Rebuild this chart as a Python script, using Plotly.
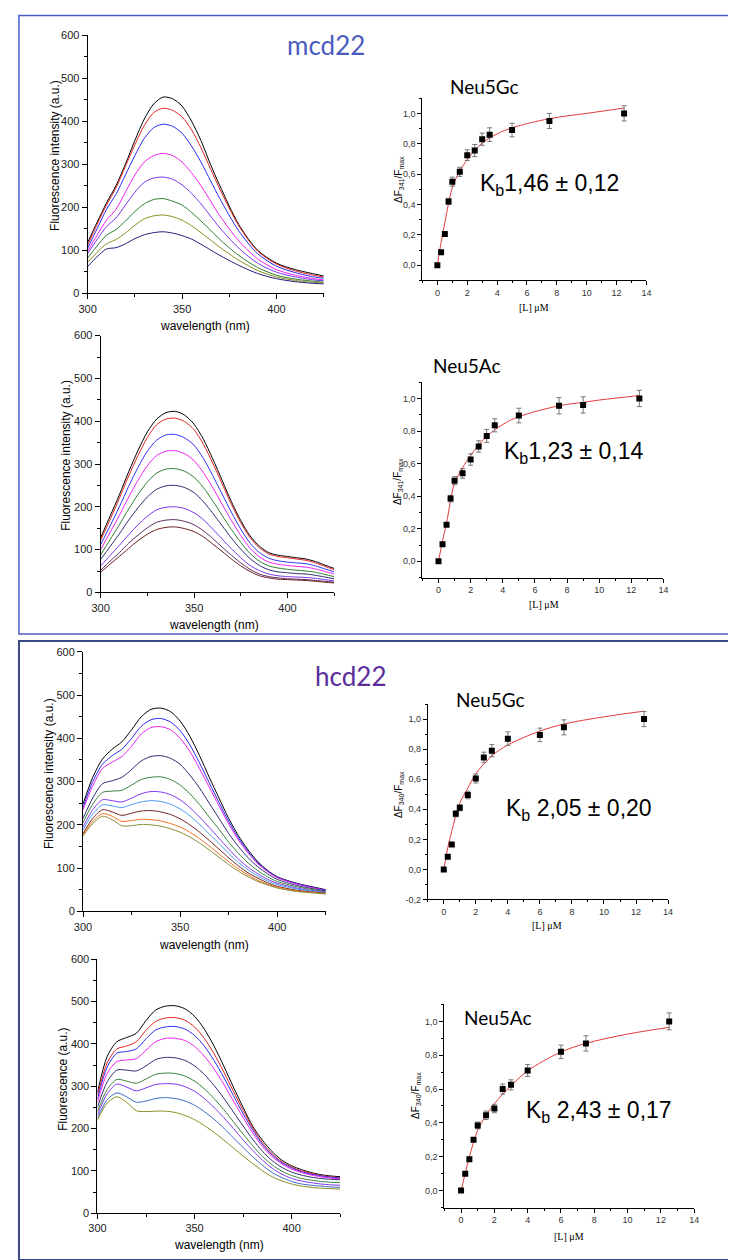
import plotly.graph_objects as go

W, H = 736, 1260

# ---------------- DATA ----------------
# mcd22 / Neu5Gc spectra
wl_mgc = [300, 305, 310, 315, 320, 325, 330, 335, 340, 345, 350, 355, 360, 365, 370, 380, 390, 400, 410, 420, 425]
mgc_1 = [118, 165, 210, 250, 300, 355, 405, 440, 456, 452, 435, 400, 355, 300, 250, 160, 100, 70, 55, 45, 40]
mgc_2 = [112, 160, 205, 245, 295, 345, 390, 420, 430, 425, 410, 380, 338, 290, 242, 157, 98, 68, 52, 42, 38]
mgc_3 = [105, 150, 195, 230, 275, 320, 360, 385, 393, 388, 372, 342, 305, 262, 220, 145, 92, 63, 48, 38, 35]
mgc_4 = [98, 135, 170, 195, 235, 275, 305, 320, 325, 320, 305, 280, 250, 215, 180, 122, 80, 55, 42, 34, 31]
mgc_5 = [92, 125, 155, 175, 205, 235, 258, 268, 270, 265, 252, 232, 208, 180, 152, 105, 70, 49, 38, 31, 29]
mgc_6 = [82, 110, 135, 148, 168, 190, 208, 218, 220, 214, 205, 188, 168, 147, 125, 88, 60, 42, 33, 28, 26]
mgc_7 = [72, 95, 115, 125, 140, 158, 173, 180, 182, 178, 170, 157, 141, 124, 107, 77, 53, 38, 30, 25, 24]
mgc_8 = [62, 85, 103, 106, 115, 127, 136, 141, 143, 140, 134, 126, 114, 101, 88, 65, 46, 34, 27, 23, 22]

# mcd22 / Neu5Ac spectra
wl_mac = [300, 305, 310, 315, 320, 325, 330, 335, 340, 345, 350, 355, 360, 365, 370, 375, 380, 385, 390, 395, 400, 405, 410, 415, 420, 425]
mac_1 = [128, 178, 228, 282, 332, 375, 405, 420, 423, 414, 393, 358, 312, 262, 212, 168, 132, 108, 93, 87, 84, 81, 78, 72, 64, 56]
mac_2 = [122, 170, 220, 272, 320, 362, 392, 405, 407, 399, 380, 346, 302, 254, 206, 163, 128, 104, 90, 84, 81, 78, 75, 69, 61, 53]
mac_3 = [112, 155, 200, 248, 292, 330, 356, 368, 369, 361, 344, 313, 273, 230, 187, 148, 115, 93, 80, 74, 71, 69, 67, 62, 55, 48]
mac_4 = [100, 140, 180, 223, 262, 296, 320, 330, 331, 324, 308, 280, 245, 206, 168, 133, 103, 83, 71, 66, 63, 61, 59, 55, 49, 43]
mac_5 = [88, 123, 158, 195, 229, 258, 279, 288, 289, 283, 269, 245, 214, 180, 147, 117, 91, 73, 62, 57, 54, 52, 50, 47, 42, 37]
mac_6 = [77, 107, 137, 169, 198, 223, 241, 249, 250, 245, 233, 212, 185, 156, 127, 101, 79, 63, 53, 48, 46, 44, 43, 40, 36, 32]
mac_7 = [62, 86, 110, 135, 158, 178, 193, 199, 200, 196, 186, 170, 148, 125, 102, 81, 63, 51, 43, 39, 37, 36, 35, 33, 30, 27]
mac_8 = [52, 73, 93, 115, 134, 151, 164, 169, 170, 166, 158, 144, 126, 106, 87, 69, 54, 43, 37, 34, 32, 31, 30, 28, 26, 24]
mac_9 = [47, 66, 84, 103, 121, 136, 147, 152, 153, 149, 142, 130, 113, 96, 78, 62, 49, 39, 34, 31, 30, 29, 28, 26, 24, 22]

# hcd22 / Neu5Gc spectra
wl_hgc = [300, 305, 310, 315, 320, 325, 330, 335, 340, 345, 350, 355, 360, 365, 370, 375, 380, 385, 390, 395, 400, 410, 420, 425]
hgc_1 = [248, 310, 352, 375, 392, 420, 450, 467, 470, 462, 440, 405, 360, 310, 262, 215, 175, 142, 115, 95, 80, 65, 55, 50]
hgc_2 = [240, 300, 340, 360, 375, 400, 428, 443, 446, 438, 418, 385, 343, 297, 252, 208, 170, 138, 112, 93, 79, 64, 54, 49]
hgc_3 = [235, 290, 330, 345, 358, 382, 410, 425, 427, 420, 400, 370, 330, 287, 244, 202, 165, 135, 110, 92, 78, 63, 53, 48]
hgc_4 = [215, 262, 295, 302, 310, 328, 348, 358, 360, 354, 340, 315, 285, 250, 215, 180, 150, 124, 103, 87, 74, 60, 51, 47]
hgc_5 = [205, 248, 275, 278, 280, 292, 305, 310, 311, 305, 292, 272, 247, 218, 190, 160, 134, 112, 94, 80, 69, 57, 49, 45]
hgc_6 = [195, 235, 258, 256, 253, 262, 272, 277, 276, 270, 258, 240, 218, 194, 169, 144, 121, 102, 87, 74, 65, 54, 47, 44]
hgc_7 = [188, 225, 246, 244, 240, 247, 253, 256, 254, 248, 237, 221, 201, 179, 157, 134, 113, 96, 82, 70, 62, 52, 46, 43]
hgc_8 = [180, 215, 235, 230, 222, 227, 232, 233, 230, 224, 214, 200, 183, 164, 144, 124, 105, 89, 77, 66, 58, 49, 44, 42]
hgc_9 = [177, 208, 226, 220, 208, 210, 213, 212, 209, 203, 195, 183, 168, 151, 133, 115, 98, 84, 72, 63, 56, 47, 43, 41]
hgc_10 = [174, 203, 220, 212, 198, 198, 201, 200, 197, 191, 183, 172, 158, 142, 125, 108, 93, 80, 69, 61, 54, 46, 42, 40]

# hcd22 / Neu5Ac spectra
wl_hac = [300, 305, 310, 315, 320, 325, 330, 335, 340, 345, 350, 355, 360, 365, 370, 375, 380, 385, 390, 395, 400, 405, 410, 415, 420, 425]
hac_1 = [285, 370, 405, 415, 425, 455, 480, 489, 490, 483, 465, 435, 395, 348, 298, 250, 205, 172, 145, 125, 112, 103, 96, 91, 88, 86]
hac_2 = [278, 355, 388, 395, 405, 432, 453, 461, 462, 456, 440, 413, 377, 334, 288, 243, 201, 166, 140, 121, 109, 100, 94, 89, 86, 84]
hac_3 = [270, 345, 378, 382, 388, 412, 433, 440, 441, 435, 420, 395, 361, 321, 278, 235, 196, 162, 137, 119, 107, 98, 92, 88, 85, 83]
hac_4 = [262, 330, 358, 362, 365, 385, 405, 413, 413, 408, 394, 371, 341, 305, 265, 226, 189, 157, 133, 116, 104, 96, 90, 86, 83, 81]
hac_5 = [250, 310, 338, 338, 336, 348, 363, 368, 367, 361, 348, 328, 302, 272, 239, 206, 174, 146, 124, 108, 97, 90, 85, 82, 80, 79]
hac_6 = [240, 292, 316, 312, 307, 317, 328, 331, 330, 324, 312, 294, 271, 245, 216, 187, 159, 134, 114, 99, 89, 82, 78, 75, 73, 72]
hac_7 = [232, 282, 305, 298, 289, 296, 304, 306, 305, 299, 288, 271, 250, 226, 200, 173, 148, 125, 106, 92, 82, 76, 72, 69, 67, 66]
hac_8 = [225, 268, 284, 275, 262, 265, 271, 273, 271, 265, 255, 240, 222, 201, 178, 155, 133, 113, 96, 84, 75, 69, 66, 64, 62, 61]
hac_9 = [220, 260, 275, 262, 242, 240, 241, 241, 238, 231, 221, 207, 191, 173, 154, 135, 117, 100, 86, 76, 69, 64, 61, 59, 58, 57]

# binding: mcd22 Neu5Gc
b_mgc_x = [0, 0.25, 0.5, 0.75, 1, 1.5, 2, 2.5, 3, 3.5, 5, 7.5, 12.5]
b_mgc_y = [0, 0.085, 0.205, 0.42, 0.55, 0.615, 0.725, 0.755, 0.83, 0.86, 0.89, 0.95, 1.0]
b_mgc_e = [0, 0, 0, 0.02, 0.03, 0.03, 0.035, 0.04, 0.04, 0.045, 0.045, 0.05, 0.05]
f_mgc_x = [0, 0.25, 0.5, 1, 1.5, 2, 3, 4, 5, 7.5, 10, 12.5]
f_mgc_y = [0, 0.15, 0.28, 0.51, 0.62, 0.695, 0.805, 0.865, 0.905, 0.965, 1.0, 1.035]

# binding: mcd22 Neu5Ac
b_mac_x = [0, 0.25, 0.5, 0.75, 1, 1.5, 2, 2.5, 3, 3.5, 5, 7.5, 9, 12.5]
b_mac_y = [0, 0.105, 0.225, 0.385, 0.495, 0.54, 0.625, 0.705, 0.77, 0.835, 0.895, 0.955, 0.96, 1.0]
b_mac_e = [0, 0, 0, 0.02, 0.025, 0.03, 0.035, 0.035, 0.04, 0.04, 0.045, 0.05, 0.05, 0.05]
f_mac_x = [0, 0.25, 0.5, 1, 1.5, 2, 3, 4, 5, 7.5, 9, 10, 12.5]
f_mac_y = [0, 0.125, 0.235, 0.48, 0.575, 0.65, 0.767, 0.84, 0.888, 0.955, 0.976, 0.99, 1.018]

# binding: hcd22 Neu5Gc
b_hgc_x = [0, 0.25, 0.5, 0.75, 1, 1.5, 2, 2.5, 3, 4, 6, 7.5, 12.5]
b_hgc_y = [0, 0.085, 0.165, 0.37, 0.41, 0.495, 0.605, 0.745, 0.79, 0.87, 0.895, 0.945, 1.0]
b_hgc_e = [0, 0, 0, 0.02, 0.02, 0.025, 0.03, 0.035, 0.04, 0.045, 0.045, 0.05, 0.05]
f_hgc_x = [0, 0.25, 0.5, 1, 1.5, 2, 3, 4, 6, 7.5, 10, 12.5]
f_hgc_y = [0, 0.143, 0.254, 0.44, 0.54, 0.636, 0.755, 0.828, 0.92, 0.967, 1.015, 1.053]

# binding: hcd22 Neu5Ac
b_hac_x = [0, 0.25, 0.5, 0.75, 1, 1.5, 2, 2.5, 3, 4, 6, 7.5, 12.5]
b_hac_y = [0, 0.1, 0.185, 0.3, 0.385, 0.445, 0.485, 0.6, 0.625, 0.71, 0.82, 0.87, 1.0]
b_hac_e = [0, 0, 0, 0, 0.02, 0.025, 0.025, 0.03, 0.03, 0.035, 0.04, 0.045, 0.05]
f_hac_x = [0, 0.25, 0.5, 1, 1.5, 2, 3, 4, 6, 7.5, 10, 12.5]
f_hac_y = [0, 0.103, 0.2, 0.357, 0.444, 0.513, 0.62, 0.708, 0.819, 0.87, 0.925, 0.965]

spec_xticks = [300, 350, 400]
spec_yticks = [0, 100, 200, 300, 400, 500, 600]
bind_xticks = [0, 2, 4, 6, 8, 10, 12, 14]
bind_yticks_a = [0.0, 0.2, 0.4, 0.6, 0.8, 1.0]
bind_ylabels_a = ["0,0", "0,2", "0,4", "0,6", "0,8", "1,0"]
bind_yticks_b = [-0.2, 0.0, 0.2, 0.4, 0.6, 0.8, 1.0]
bind_ylabels_b = ["-0,2", "0,0", "0,2", "0,4", "0,6", "0,8", "1,0"]

# ---------------- STYLE ----------------
col_mgc = ["#000000", "#e02424", "#2a2af0", "#f020f0", "#7a34ea", "#2f7d2f", "#8a8a1e", "#1e1e7c"]
col_mac = ["#000000", "#e02424", "#3232f2", "#f020f0", "#2f7d2f", "#2c2c6c", "#7a34f0", "#5a2a5e", "#6a1c1c"]
col_hgc = ["#000000", "#2a2af0", "#e424f0", "#2c2c70", "#3a803a", "#8034f0", "#4a9af0", "#702222", "#f07020", "#8a8a30"]
col_hac = ["#000000", "#e02424", "#2a2af0", "#f020f0", "#2c2c70", "#3a803a", "#8034f0", "#3a6ac0", "#8a8a22"]

FONT = "Liberation Sans"


def xd(a, b):
    return [a / W, b / W]


def yd(top, bottom):
    return [1 - bottom / H, 1 - top / H]


def px(x):
    return x / W


def py(y):
    return 1 - y / H


fig = go.Figure()
layout = {}
annotations = []

spectra = [
    (wl_mgc, [mgc_1, mgc_2, mgc_3, mgc_4, mgc_5, mgc_6, mgc_7, mgc_8], col_mgc, (72, 312.7), (21.3, 282)),
    (wl_mac, [mac_1, mac_2, mac_3, mac_4, mac_5, mac_6, mac_7, mac_8, mac_9], col_mac, (85.3, 323.3), (324.7, 584)),
    (wl_hgc, [hgc_1, hgc_2, hgc_3, hgc_4, hgc_5, hgc_6, hgc_7, hgc_8, hgc_9, hgc_10], col_hgc, (67.3, 314.8), (644, 906)),
    (wl_hac, [hac_1, hac_2, hac_3, hac_4, hac_5, hac_6, hac_7, hac_8, hac_9], col_hac, (82, 329.5), (954.3, 1210.7)),
]

n = 0
for wl, curves, cols, (x0, x1), (y0, y1) in spectra:
    n += 1
    sfx = "" if n == 1 else str(n)
    for c, col in zip(curves, cols):
        fig.add_trace(go.Scatter(x=wl, y=c, mode="lines", xaxis="x" + sfx, yaxis="y" + sfx,
                                 line=dict(color=col, width=1, shape="spline", smoothing=0.8),
                                 showlegend=False, hoverinfo="skip"))
    layout["xaxis" + sfx] = dict(domain=xd(x0, x1), anchor="y" + sfx, range=[300, 425],
                                 tickmode="array", tickvals=spec_xticks, showline=True, linecolor="black",
                                 linewidth=1, ticks="outside", ticklen=5, tickcolor="black",
                                 minor=dict(ticks="outside", ticklen=3, tickmode="linear", tick0=300, dtick=25, tickcolor="black"),
                                 showgrid=False, zeroline=False, tickfont=dict(family=FONT, size=11, color="#222"))
    layout["yaxis" + sfx] = dict(domain=yd(y0, y1), anchor="x" + sfx, range=[0, 600],
                                 tickmode="array", tickvals=spec_yticks, showline=True, linecolor="black",
                                 linewidth=1, ticks="outside", ticklen=5, tickcolor="black",
                                 minor=dict(ticks="outside", ticklen=3, tickmode="linear", tick0=0, dtick=50, tickcolor="black"),
                                 showgrid=False, zeroline=False, tickfont=dict(family=FONT, size=11, color="#222"))

binding = [
    (b_mgc_x, b_mgc_y, b_mgc_e, f_mgc_x, f_mgc_y, (413.3, 641.7), (85, 269), [-0.1, 1.1], bind_yticks_a, bind_ylabels_a),
    (b_mac_x, b_mac_y, b_mac_e, f_mac_x, f_mac_y, (413.3, 659), (371.7, 569), [-0.1, 1.1], bind_yticks_a, bind_ylabels_a),
    (b_hgc_x, b_hgc_y, b_hgc_e, f_hgc_x, f_hgc_y, (418.7, 663.7), (696.7, 894), [-0.2, 1.1], bind_yticks_b, bind_ylabels_b),
    (b_hac_x, b_hac_y, b_hac_e, f_hac_x, f_hac_y, (435.7, 690.3), (1000, 1205), [-0.1, 1.1], bind_yticks_a, bind_ylabels_a),
]

for bx, by, be, fx, fy, (x0, x1), (y0, y1), yr, ytv, ytt in binding:
    n += 1
    sfx = str(n)
    fig.add_trace(go.Scatter(x=fx, y=fy, mode="lines", xaxis="x" + sfx, yaxis="y" + sfx,
                             line=dict(color="#e03a3a", width=1, shape="spline", smoothing=1.0),
                             showlegend=False, hoverinfo="skip"))
    fig.add_trace(go.Scatter(x=bx, y=by, mode="markers", xaxis="x" + sfx, yaxis="y" + sfx,
                             marker=dict(symbol="square", size=6, color="black"),
                             error_y=dict(type="data", array=be, visible=True, color="#777777", thickness=1, width=2.5),
                             showlegend=False, hoverinfo="skip"))
    layout["xaxis" + sfx] = dict(domain=xd(x0, x1), anchor="y" + sfx, range=[-1, 14],
                                 tickmode="array", tickvals=bind_xticks, showline=True, linecolor="black",
                                 linewidth=1, ticks="outside", ticklen=4, tickcolor="black",
                                 minor=dict(ticks="outside", ticklen=2, tickmode="linear", tick0=-1, dtick=1, tickcolor="black"),
                                 showgrid=False, zeroline=False, tickfont=dict(family=FONT, size=9, color="#333"))
    layout["yaxis" + sfx] = dict(domain=yd(y0, y1), anchor="x" + sfx, range=yr,
                                 tickmode="array", tickvals=ytv, ticktext=ytt, showline=True, linecolor="black",
                                 linewidth=1, ticks="outside", ticklen=4, tickcolor="black",
                                 minor=dict(ticks="outside", ticklen=2, tickmode="linear", tick0=0, dtick=0.1, tickcolor="black"),
                                 showgrid=False, zeroline=False, tickfont=dict(family=FONT, size=9, color="#333"))


def ann(text, x, y, size, color="black", family=FONT, angle=0):
    annotations.append(dict(text=text, x=px(x), y=py(y), xref="paper", yref="paper", showarrow=False,
                            xanchor="center", yanchor="middle", textangle=angle,
                            font=dict(family=family, size=size, color=color)))


# titles
ann("mcd22", 315, 31, 26, color="#4a5cc0", family="Lato")
ann("hcd22", 340, 668, 26, color="#5a2d9a", family="Lato")

# spectra axis titles
ann("Fluorescence intensity (a.u.)", 38, 143, 12, angle=-90)
ann("wavelength (nm)", 192, 315, 12)
ann("Fluorescence intensity (a.u.)", 50, 446, 12, angle=-90)
ann("wavelength (nm)", 201, 617, 12)
ann("Fluorescence intensity (a.u.)", 32, 767, 12, angle=-90)
ann("wavelength (nm)", 191, 940, 12)
ann("Fluorescence (a.u.)", 47, 1076, 12, angle=-90)
ann("wavelength (nm)", 206, 1243, 12)

# binding panel labels
ann("Neu5Gc", 477, 73, 19, family="Lato")
ann("K<sub>b</sub>1,46 ± 0,12", 543, 172, 23)
ann("ΔF<sub>341</sub>/F<sub>max</sub>", 390, 167, 10, angle=-90)
ann("[L] μM", 527, 296, 10, family="Liberation Serif")

ann("Neu5Ac", 459, 355, 19, family="Lato")
ann("K<sub>b</sub>1,23 ± 0,14", 567, 443, 23)
ann("ΔF<sub>341</sub>/F<sub>max</sub>", 388, 472, 10, angle=-90)
ann("[L] μM", 537, 596, 10, family="Liberation Serif")

ann("Neu5Gc", 483, 692, 19, family="Lato")
ann("K<sub>b</sub> 2,05 ± 0,20", 573, 803, 23)
ann("ΔF<sub>340</sub>/F<sub>max</sub>", 390, 788, 10, angle=-90)
ann("[L] μM", 540, 920, 10, family="Liberation Serif")

ann("Neu5Ac", 490, 1013, 19, family="Lato")
ann("K<sub>b</sub> 2,43 ± 0,17", 593, 1108, 23)
ann("ΔF<sub>340</sub>/F<sub>max</sub>", 406, 1092, 10, angle=-90)
ann("[L] μM", 563, 1234, 10, family="Liberation Serif")

shapes = [
    dict(type="rect", xref="paper", yref="paper", x0=px(2), x1=px(734), y0=py(626), y1=py(1.5),
         line=dict(color="#4a5fc2", width=1.5)),
    dict(type="rect", xref="paper", yref="paper", x0=px(2), x1=px(734), y0=py(1258), y1=py(633),
         line=dict(color="#3a4888", width=2)),
]

fig.update_layout(width=W, height=H, margin=dict(l=0, r=0, t=0, b=0),
                  font=dict(family=FONT, size=12, color="black"),
                  paper_bgcolor="white", plot_bgcolor="white",
                  annotations=annotations, shapes=shapes, showlegend=False, **layout)

fig.write_html("out.html")
